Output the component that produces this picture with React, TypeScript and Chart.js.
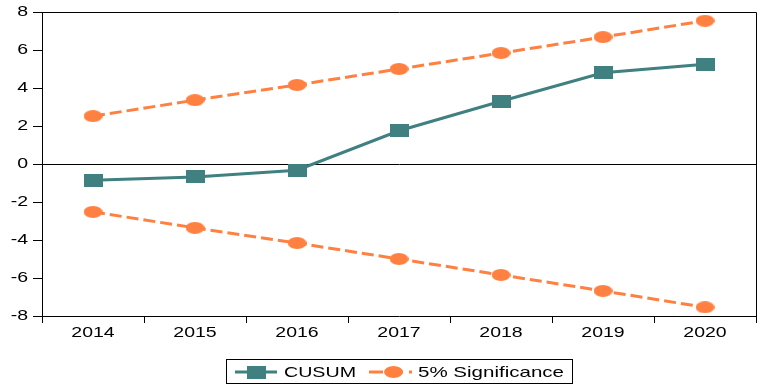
import React, { useEffect, useRef } from "react";
import { Chart, registerables } from "chart.js";

Chart.register(...registerables);

const categories = ["2014", "2015", "2016", "2017", "2018", "2019", "2020"];
const cusum = [-0.85, -0.68, -0.33, 1.75, 3.3, 4.8, 5.25];
const upper5 = [2.52, 3.36, 4.16, 5.0, 5.84, 6.68, 7.54];
const lower5 = [-2.52, -3.36, -4.16, -5.0, -5.84, -6.68, -7.54];
const yMin = -8;
const yMax = 8;
const yStep = 2;

const TEAL = "#408080";
const ORANGE = "#ff8040";
const FONT = "'Liberation Sans', Arial, sans-serif";
const STRETCH = 1.3;

function makeRect(w: number, h: number, color: string) {
  const c = document.createElement("canvas");
  c.width = w;
  c.height = h;
  const x = c.getContext("2d")!;
  x.fillStyle = color;
  x.fillRect(0, 0, w, h);
  return c;
}

function makeEllipse(w: number, h: number, color: string) {
  const c = document.createElement("canvas");
  c.width = w;
  c.height = h;
  const x = c.getContext("2d")!;
  x.fillStyle = color;
  x.beginPath();
  x.ellipse(w / 2, h / 2, w / 2, h / 2, 0, 0, Math.PI * 2);
  x.fill();
  return c;
}

function stretchedText(
  ctx: CanvasRenderingContext2D,
  text: string,
  x: number,
  y: number,
  align: "left" | "center" | "right",
  sx: number
) {
  const w = ctx.measureText(text).width * sx;
  let left = x;
  if (align === "center") left = x - w / 2;
  else if (align === "right") left = x - w;
  ctx.save();
  ctx.translate(left, y);
  ctx.scale(sx, 1);
  ctx.textAlign = "left";
  ctx.fillText(text, 0, 0);
  ctx.restore();
}

export default function App() {
  const ref = useRef<HTMLCanvasElement | null>(null);

  useEffect(() => {
    if (!ref.current) return;
    const rectImg = makeRect(19, 13, TEAL);
    const ellImg = makeEllipse(19, 12, ORANGE);

    const framePlugin = {
      id: "frame",
      afterDraw(chart: any) {
        const { ctx, chartArea } = chart;
        const l = Math.round(chartArea.left) + 0.5;
        const t = Math.round(chartArea.top) + 0.5;
        const r = Math.round(chartArea.right) + 0.5;
        const b = Math.round(chartArea.bottom) + 0.5;
        ctx.save();
        ctx.strokeStyle = "#000";
        ctx.lineWidth = 1;
        ctx.beginPath();
        ctx.moveTo(l, t);
        ctx.lineTo(r, t);
        ctx.lineTo(r, b);
        ctx.stroke();
        ctx.restore();
      },
    };

    const tickLabelPlugin = {
      id: "tickLabels",
      afterDraw(chart: any) {
        const ctx = chart.ctx as CanvasRenderingContext2D;
        const xs = chart.scales.x;
        const ys = chart.scales.y;
        ctx.save();
        ctx.fillStyle = "#000";
        ctx.font = `15px ${FONT}`;
        ctx.textBaseline = "alphabetic";
        xs.ticks.forEach((t: any, i: number) => {
          const px = xs.getPixelForTick(i);
          const label = String(xs.getLabelForValue(t.value));
          stretchedText(ctx, label, px, xs.bottom - xs.height + 21, "center", STRETCH);
        });
        ys.ticks.forEach((t: any) => {
          const py = ys.getPixelForValue(t.value);
          stretchedText(ctx, String(t.value), ys.right - 14, py + 3.5, "right", STRETCH);
        });
        ctx.restore();
      },
    };

    const legendPlugin = {
      id: "customLegend",
      afterDraw(chart: any) {
        const ctx = chart.ctx as CanvasRenderingContext2D;
        ctx.save();
        ctx.strokeStyle = "#000";
        ctx.lineWidth = 1;
        ctx.strokeRect(226.5, 359.5, 346, 24);
        const cy = 372;
        const ds0 = chart.data.datasets[0];
        ctx.strokeStyle = ds0.borderColor;
        ctx.lineWidth = 3;
        ctx.beginPath();
        ctx.moveTo(235, cy);
        ctx.lineTo(277, cy);
        ctx.stroke();
        ctx.drawImage(rectImg, 247, cy - 6.5);
        const ds1 = chart.data.datasets[1];
        ctx.strokeStyle = ds1.borderColor;
        ctx.setLineDash([14, 6]);
        ctx.beginPath();
        ctx.moveTo(369, cy);
        ctx.lineTo(412, cy);
        ctx.stroke();
        ctx.setLineDash([]);
        ctx.drawImage(ellImg, 384, cy - 6);
        ctx.fillStyle = "#000";
        ctx.font = `15px ${FONT}`;
        ctx.textBaseline = "middle";
        const fit = (text: string, x: number, width: number) => {
          const w = ctx.measureText(text).width;
          stretchedText(ctx, text, x, cy + 0.5, "left", width / w);
        };
        fit(ds0.label, 284, 72);
        fit(ds1.label, 418, 146);
        ctx.restore();
      },
    };

    const chart = new Chart(ref.current, {
      type: "line",
      data: {
        labels: categories,
        datasets: [
          {
            label: "CUSUM",
            data: cusum,
            borderColor: TEAL,
            backgroundColor: TEAL,
            borderWidth: 3,
            pointStyle: rectImg as any,
            pointRadius: 6,
            tension: 0,
            order: 1,
          },
          {
            label: "5% Significance",
            data: upper5,
            borderColor: ORANGE,
            backgroundColor: ORANGE,
            borderWidth: 3,
            borderDash: [12, 5],
            pointStyle: ellImg as any,
            pointRadius: 6,
            tension: 0,
            order: 2,
          },
          {
            label: "5% Significance (lower)",
            data: lower5,
            borderColor: ORANGE,
            backgroundColor: ORANGE,
            borderWidth: 3,
            borderDash: [12, 5],
            pointStyle: ellImg as any,
            pointRadius: 6,
            tension: 0,
            order: 2,
          },
        ],
      },
      options: {
        responsive: false,
        animation: false,
        devicePixelRatio: 1,
        layout: {
          autoPadding: false,
          padding: { top: 12, right: 5, left: 0, bottom: 0 },
        },
        plugins: {
          legend: { display: false },
          tooltip: { enabled: false },
        },
        scales: {
          x: {
            type: "category",
            offset: true,
            grid: {
              offset: true,
              drawOnChartArea: false,
              color: "#000",
              tickLength: 7,
            },
            border: { display: true, color: "#000", width: 1 },
            ticks: { display: false, autoSkip: false, maxRotation: 0 },
            afterFit(scale: any) {
              scale.height = 73;
              scale.paddingLeft = 0;
              scale.paddingRight = 0;
            },
          },
          y: {
            min: yMin,
            max: yMax,
            grid: {
              drawOnChartArea: true,
              color: (c: any) =>
                c.tick && c.tick.value === 0 ? "#000" : "rgba(0,0,0,0)",
              tickColor: "#000",
              tickLength: 9,
            },
            border: { display: true, color: "#000", width: 1 },
            ticks: { display: false, stepSize: yStep },
            afterFit(scale: any) {
              scale.width = 42;
              scale.paddingTop = 0;
              scale.paddingBottom = 0;
            },
          },
        },
      },
      plugins: [framePlugin, tickLabelPlugin, legendPlugin],
    });

    return () => chart.destroy();
  }, []);

  return (
    <div
      style={{
        position: "absolute",
        left: 0,
        top: 0,
        width: 761,
        height: 389,
        background: "#fff",
      }}
    >
      <canvas ref={ref} width={761} height={389} style={{ display: "block" }} />
    </div>
  );
}
